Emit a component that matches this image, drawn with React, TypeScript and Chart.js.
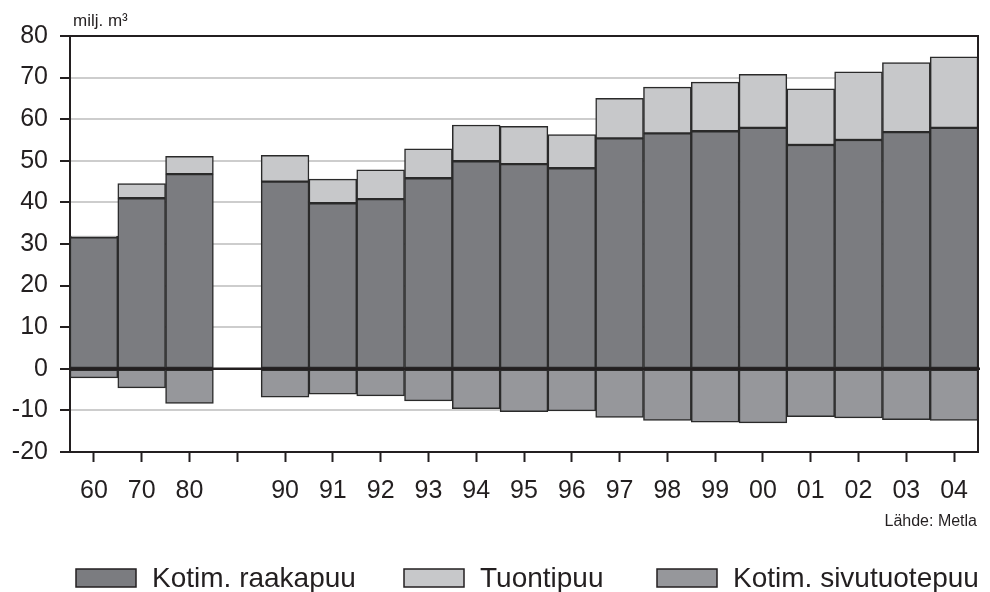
import React, { useEffect, useRef } from "react";
import { Chart, registerables } from "chart.js";

Chart.register(...registerables);

const categories = ["60", "70", "80", "", "90", "91", "92", "93", "94", "95", "96", "97", "98", "99", "00", "01", "02", "03", "04"];
const raakapuu = [31.6, 41.0, 46.8, null, 45.0, 39.8, 40.8, 45.8, 49.9, 49.2, 48.2, 55.4, 56.6, 57.1, 57.9, 53.8, 55.0, 56.9, 57.9];
const tuontipuu = [0.3, 3.5, 4.3, null, 6.3, 5.8, 7.0, 7.1, 8.7, 9.1, 8.1, 9.6, 11.1, 11.8, 12.9, 13.5, 16.4, 16.7, 17.1];
const sivutuotepuu = [-2.2, -4.6, -8.3, null, -6.8, -6.1, -6.5, -7.7, -9.6, -10.3, -10.1, -11.7, -12.4, -12.8, -13.0, -11.5, -11.8, -12.2, -12.4];
const seriesNames = ["Kotim. raakapuu", "Tuontipuu", "Kotim. sivutuotepuu"];
const unitLabel = "milj. m³";
const sourceLabel = "Lähde: Metla";

const FONT = "'Liberation Sans', Arial, Helvetica, sans-serif";
const INK = "#231f20";

export default function App() {
  const canvasRef = useRef<HTMLCanvasElement | null>(null);

  useEffect(() => {
    const canvas = canvasRef.current;
    if (!canvas) return;

    const overlay = {
      id: "overlay",
      afterDatasetsDraw(chart: any) {
        const { ctx, chartArea } = chart;
        const y = chart.scales.y;
        ctx.save();
        ctx.strokeStyle = INK;
        ctx.lineWidth = 2.5;
        const y0 = y.getPixelForValue(0);
        ctx.beginPath();
        ctx.moveTo(chartArea.left, y0);
        ctx.lineTo(chartArea.right + 2, y0);
        ctx.stroke();
        ctx.lineWidth = 2;
        ctx.beginPath();
        ctx.moveTo(chartArea.left, chartArea.top);
        ctx.lineTo(chartArea.right, chartArea.top);
        ctx.lineTo(chartArea.right, chartArea.bottom);
        ctx.stroke();
        ctx.restore();
      },
      afterDraw(chart: any) {
        const { ctx, chartArea } = chart;
        ctx.save();
        ctx.fillStyle = INK;
        ctx.textBaseline = "middle";
        ctx.font = `17px ${FONT}`;
        ctx.textAlign = "left";
        ctx.fillText(unitLabel, chartArea.left + 3, 21);
        ctx.font = `16px ${FONT}`;
        ctx.textAlign = "right";
        ctx.fillText(sourceLabel, 977, 522);
        const boxXs = [76, 404, 657];
        chart.data.datasets.forEach((ds: any, i: number) => {
          const bx = boxXs[i];
          ctx.fillStyle = ds.backgroundColor;
          ctx.fillRect(bx, 569, 60, 18);
          ctx.strokeStyle = INK;
          ctx.lineWidth = 1.5;
          ctx.strokeRect(bx, 569, 60, 18);
          ctx.fillStyle = INK;
          ctx.font = `28px ${FONT}`;
          ctx.textAlign = "left";
          ctx.fillText(ds.label, bx + 76, 579);
        });
        ctx.restore();
      },
    };

    const common = {
      borderColor: "#2a2a2a",
      borderWidth: 1.5,
      borderSkipped: false,
      categoryPercentage: 1,
      barPercentage: 1,
    };

    const chart = new Chart(canvas, {
      type: "bar",
      data: {
        labels: categories,
        datasets: [
          { ...common, label: seriesNames[0], data: raakapuu, backgroundColor: "#7b7c80" },
          { ...common, label: seriesNames[1], data: tuontipuu, backgroundColor: "#c7c8ca" },
          { ...common, label: seriesNames[2], data: sivutuotepuu, backgroundColor: "#96979b" },
        ],
      },
      options: {
        responsive: false,
        animation: false,
        layout: { padding: { top: 36, right: 12, left: 0, bottom: 0 } },
        plugins: { legend: { display: false }, tooltip: { enabled: false } },
        scales: {
          x: {
            stacked: true,
            afterFit: (s: any) => { s.height = 140; },
            border: { display: true, color: INK, width: 2 },
            grid: {
              offset: false,
              drawOnChartArea: false,
              drawTicks: true,
              tickLength: 10,
              tickColor: INK,
              tickWidth: 2,
            },
            ticks: {
              color: INK,
              padding: 14,
              maxRotation: 0,
              autoSkip: false,
              font: { family: FONT, size: 25 },
            },
          },
          y: {
            stacked: true,
            min: -20,
            max: 80,
            afterFit: (s: any) => { s.width = 70; },
            border: { display: true, color: INK, width: 2 },
            grid: {
              color: (c: any) => {
                const v = c.tick ? c.tick.value : null;
                if (v === 80 || v === 0 || v === -20) return "rgba(0,0,0,0)";
                return "#cdcdcd";
              },
              lineWidth: 2,
              tickLength: 10,
              tickColor: INK,
              tickWidth: 2,
            },
            ticks: {
              stepSize: 10,
              color: INK,
              padding: 12,
              font: { family: FONT, size: 25 },
            },
          },
        },
      },
      plugins: [overlay],
    } as any);

    return () => chart.destroy();
  }, []);

  return (
    <div style={{ position: "fixed", left: 0, top: 0, width: 990, height: 592, background: "#fff" }}>
      <canvas ref={canvasRef} width={990} height={592} />
    </div>
  );
}
